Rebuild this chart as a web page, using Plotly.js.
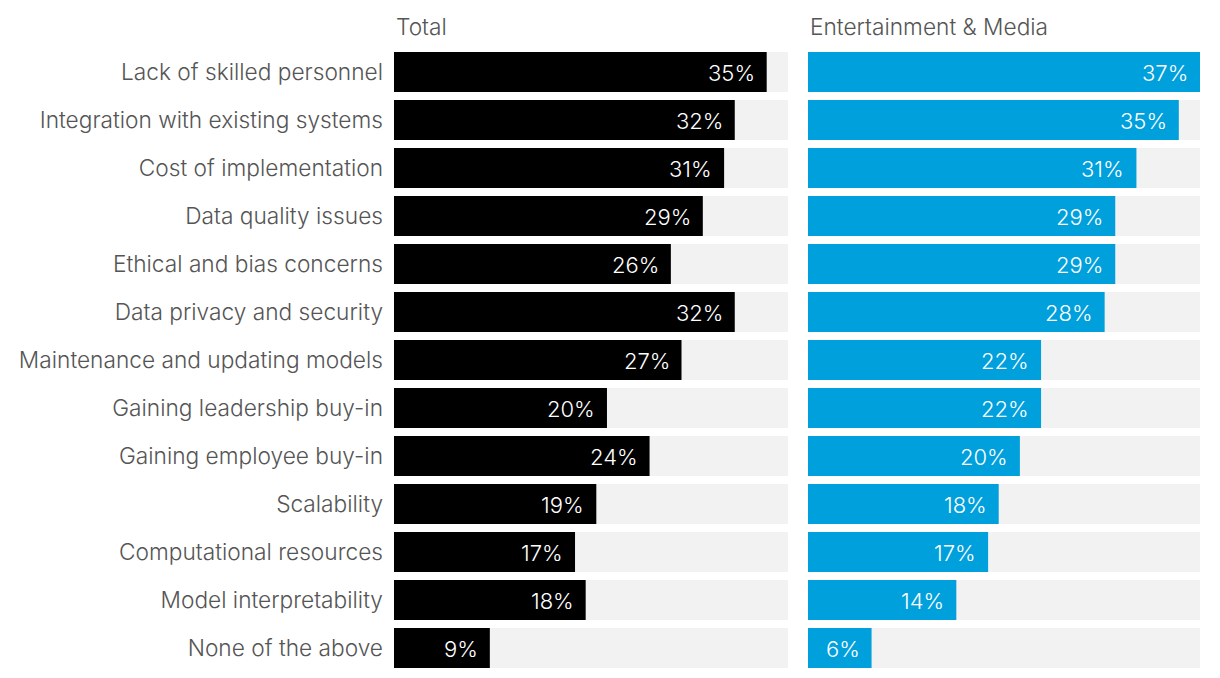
<!DOCTYPE html>
<html>
<head>
<meta charset="utf-8">
<script src="https://cdn.plot.ly/plotly-3.0.1.min.js"></script>
<style>html,body{margin:0;padding:0;background:#fff;}#chart{width:1220px;height:678px;}</style>
</head>
<body>
<div id="chart"></div>
<script>
const categories = [
  "Lack of skilled personnel",
  "Integration with existing systems",
  "Cost of implementation",
  "Data quality issues",
  "Ethical and bias concerns",
  "Data privacy and security",
  "Maintenance and updating models",
  "Gaining leadership buy-in",
  "Gaining employee buy-in",
  "Scalability",
  "Computational resources",
  "Model interpretability",
  "None of the above"
];
const totalValues = [35, 32, 31, 29, 26, 32, 27, 20, 24, 19, 17, 18, 9];
const mediaValues = [37, 35, 31, 29, 29, 28, 22, 22, 20, 18, 17, 14, 6];
const panelTitles = ["Total", "Entertainment & Media"];
const maxValue = 37;

const FONT = "Inter, 'Liberation Sans', Arial, sans-serif";
const FS = 22.7;
const FSV = 22;
const W = 300;
const bgValues = categories.map(() => maxValue);

const traces = [
  {type:'bar', orientation:'h', y:categories, x:bgValues, xaxis:'x', yaxis:'y',
   marker:{color:'#f2f2f2'}, hoverinfo:'skip', showlegend:false},
  {type:'bar', orientation:'h', y:categories, x:totalValues, xaxis:'x', yaxis:'y',
   marker:{color:'#000000'}, showlegend:false},
  {type:'bar', orientation:'h', y:categories, x:bgValues, xaxis:'x2', yaxis:'y2',
   marker:{color:'#f2f2f2'}, hoverinfo:'skip', showlegend:false},
  {type:'bar', orientation:'h', y:categories, x:mediaValues, xaxis:'x2', yaxis:'y2',
   marker:{color:'#00a0dc'}, showlegend:false}
];

const annotations = [];
categories.forEach((c, i) => {
  annotations.push({xref:'x', yref:'y', x:totalValues[i], y:c, text:totalValues[i] + '%',
    showarrow:false, xanchor:'right', xshift:-10, yshift:-1, font:{family:FONT, size:FSV, weight:W, color:'#ffffff'}});
  annotations.push({xref:'x2', yref:'y2', x:mediaValues[i], y:c, text:mediaValues[i] + '%',
    showarrow:false, xanchor:'right', xshift:-10, yshift:-1, font:{family:FONT, size:FSV, weight:W, color:'#ffffff'}});
});
const d1 = [394/1220, 788/1220];
const d2 = [808/1220, 1200/1220];
annotations.push({xref:'paper', yref:'paper', x:d1[0], y:1, yshift:6, xanchor:'left', yanchor:'bottom',
  text:panelTitles[0], showarrow:false, font:{family:FONT, size:FS, weight:W, color:'#555555'}});
annotations.push({xref:'paper', yref:'paper', x:d2[0], y:1, yshift:6, xanchor:'left', yanchor:'bottom',
  text:panelTitles[1], showarrow:false, font:{family:FONT, size:FS, weight:W, color:'#555555'}});

const layout = {
  width:1220, height:678,
  margin:{l:0, r:0, t:48, b:6},
  paper_bgcolor:'#ffffff', plot_bgcolor:'#ffffff',
  barmode:'overlay', bargap:1/6,
  font:{family:FONT, size:FS, color:'#555555'},
  xaxis:{domain:d1, range:[0, maxValue], visible:false, fixedrange:true},
  xaxis2:{domain:d2, range:[0, maxValue], visible:false, fixedrange:true},
  yaxis:{anchor:'x', autorange:'reversed', showgrid:false, zeroline:false, showline:false,
    ticks:'', ticklabelstandoff:10, tickfont:{family:FONT, size:FS, weight:W, color:'#555555'}},
  yaxis2:{anchor:'x2', autorange:'reversed', showgrid:false, zeroline:false, showline:false,
    showticklabels:false, ticks:''},
  annotations:annotations
};

Plotly.newPlot('chart', traces, layout, {displayModeBar:false, staticPlot:true});
</script>
</body>
</html>
